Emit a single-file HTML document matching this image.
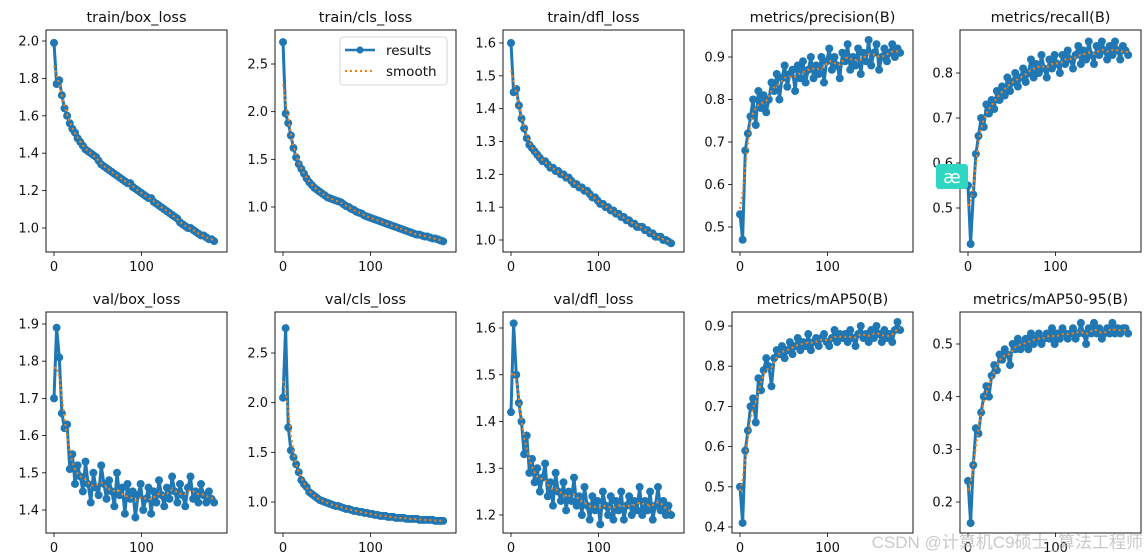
<!DOCTYPE html>
<html><head><meta charset="utf-8"><style>
body{margin:0;background:#fff;}
svg{display:block;font-family:"DejaVu Sans","Liberation Sans",sans-serif;}
</style></head><body>
<svg id="chart" width="1148" height="558" viewBox="0 0 1148 558" xmlns="http://www.w3.org/2000/svg">
<rect width="1148" height="558" fill="#fff"/>
</svg>
<script>
const epochs=[0,3,6,9,12,15,18,21,24,27,30,33,36,39,42,45,48,51,54,57,60,63,66,69,72,75,78,81,84,87,90,93,96,99,102,105,108,111,114,117,120,123,126,129,132,135,138,141,144,147,150,153,156,159,162,165,168,171,174,177,180,183];
const trainBox=[1.99,1.77,1.79,1.71,1.64,1.60,1.56,1.53,1.51,1.48,1.46,1.44,1.42,1.41,1.40,1.39,1.38,1.36,1.34,1.33,1.32,1.31,1.30,1.29,1.28,1.27,1.26,1.25,1.24,1.24,1.22,1.21,1.20,1.19,1.18,1.17,1.16,1.16,1.14,1.13,1.12,1.11,1.10,1.09,1.08,1.07,1.06,1.05,1.03,1.02,1.01,1.00,1.00,0.99,0.98,0.97,0.96,0.96,0.95,0.94,0.94,0.93];
const trainCls=[2.73,1.98,1.88,1.75,1.62,1.52,1.45,1.40,1.35,1.30,1.26,1.23,1.20,1.18,1.16,1.14,1.12,1.10,1.09,1.08,1.07,1.06,1.05,1.03,1.01,1.00,0.98,0.97,0.95,0.94,0.93,0.91,0.90,0.89,0.88,0.87,0.86,0.85,0.84,0.83,0.82,0.81,0.80,0.79,0.78,0.77,0.76,0.75,0.74,0.73,0.72,0.71,0.71,0.70,0.69,0.69,0.68,0.67,0.67,0.66,0.65,0.64];
const trainDfl=[1.60,1.45,1.46,1.41,1.37,1.34,1.31,1.29,1.28,1.27,1.26,1.25,1.24,1.24,1.23,1.22,1.22,1.21,1.21,1.20,1.20,1.19,1.19,1.18,1.17,1.17,1.16,1.16,1.15,1.15,1.14,1.13,1.13,1.12,1.11,1.11,1.10,1.10,1.09,1.09,1.08,1.08,1.07,1.07,1.06,1.06,1.05,1.05,1.04,1.04,1.04,1.03,1.03,1.02,1.02,1.01,1.01,1.01,1.00,1.00,0.995,0.99];
const precision=[0.53,0.47,0.68,0.72,0.76,0.80,0.74,0.82,0.78,0.81,0.77,0.80,0.84,0.82,0.86,0.80,0.85,0.88,0.83,0.86,0.87,0.82,0.88,0.85,0.89,0.84,0.87,0.90,0.85,0.88,0.86,0.90,0.84,0.89,0.92,0.87,0.90,0.88,0.85,0.91,0.89,0.93,0.87,0.90,0.88,0.92,0.86,0.91,0.89,0.94,0.88,0.91,0.93,0.87,0.90,0.92,0.89,0.91,0.93,0.90,0.92,0.91];
const recall=[0.55,0.42,0.53,0.62,0.66,0.70,0.68,0.73,0.71,0.74,0.72,0.76,0.74,0.77,0.75,0.79,0.76,0.78,0.80,0.77,0.79,0.81,0.78,0.80,0.83,0.79,0.82,0.80,0.84,0.81,0.79,0.83,0.81,0.84,0.82,0.80,0.84,0.82,0.85,0.83,0.81,0.84,0.86,0.82,0.85,0.83,0.87,0.84,0.82,0.86,0.84,0.87,0.85,0.83,0.86,0.84,0.87,0.85,0.83,0.86,0.85,0.84];
const valBox=[1.70,1.89,1.81,1.66,1.62,1.63,1.51,1.55,1.47,1.52,1.49,1.45,1.53,1.47,1.42,1.50,1.46,1.44,1.52,1.47,1.43,1.48,1.45,1.41,1.50,1.44,1.46,1.39,1.47,1.43,1.45,1.38,1.44,1.47,1.40,1.43,1.46,1.39,1.45,1.42,1.48,1.44,1.41,1.46,1.43,1.49,1.45,1.42,1.47,1.44,1.41,1.46,1.49,1.43,1.45,1.42,1.47,1.44,1.42,1.45,1.43,1.42];
const valCls=[2.05,2.75,1.75,1.52,1.45,1.38,1.30,1.22,1.18,1.15,1.10,1.08,1.06,1.04,1.02,1.01,1.00,0.99,0.98,0.97,0.96,0.96,0.95,0.94,0.93,0.93,0.92,0.91,0.91,0.90,0.90,0.89,0.89,0.88,0.88,0.87,0.87,0.86,0.86,0.86,0.85,0.85,0.85,0.84,0.84,0.84,0.84,0.83,0.83,0.83,0.83,0.83,0.82,0.82,0.82,0.82,0.82,0.82,0.81,0.81,0.81,0.81];
const valDfl=[1.42,1.61,1.50,1.44,1.40,1.33,1.37,1.29,1.32,1.27,1.30,1.25,1.28,1.31,1.24,1.27,1.22,1.29,1.25,1.23,1.27,1.21,1.25,1.23,1.28,1.22,1.24,1.20,1.26,1.22,1.19,1.24,1.21,1.23,1.18,1.25,1.22,1.20,1.24,1.19,1.23,1.21,1.25,1.19,1.22,1.24,1.20,1.23,1.21,1.26,1.20,1.23,1.21,1.25,1.19,1.22,1.26,1.21,1.23,1.20,1.22,1.20];
const map50=[0.50,0.41,0.59,0.64,0.70,0.72,0.66,0.77,0.74,0.79,0.82,0.80,0.75,0.82,0.84,0.83,0.85,0.82,0.84,0.86,0.83,0.85,0.87,0.84,0.86,0.85,0.88,0.84,0.86,0.87,0.85,0.87,0.88,0.86,0.85,0.87,0.89,0.86,0.88,0.87,0.88,0.86,0.89,0.87,0.85,0.88,0.90,0.87,0.88,0.86,0.89,0.87,0.90,0.88,0.86,0.89,0.87,0.88,0.86,0.89,0.91,0.89];
const map5095=[0.24,0.16,0.27,0.34,0.33,0.37,0.40,0.42,0.40,0.44,0.46,0.45,0.48,0.47,0.49,0.48,0.46,0.50,0.49,0.51,0.49,0.50,0.51,0.49,0.52,0.50,0.51,0.52,0.50,0.51,0.52,0.51,0.53,0.50,0.52,0.51,0.53,0.52,0.51,0.52,0.53,0.51,0.52,0.54,0.52,0.50,0.53,0.52,0.54,0.52,0.53,0.51,0.52,0.53,0.52,0.54,0.52,0.53,0.52,0.53,0.53,0.52];
const xTicks=[0,100];
const titles=["train/box_loss","train/cls_loss","train/dfl_loss","metrics/precision(B)","metrics/recall(B)","val/box_loss","val/cls_loss","val/dfl_loss","metrics/mAP50(B)","metrics/mAP50-95(B)"];
const yTicks=[["2.0","1.8","1.6","1.4","1.2","1.0"],["2.5","2.0","1.5","1.0"],["1.6","1.5","1.4","1.3","1.2","1.1","1.0"],["0.9","0.8","0.7","0.6","0.5"],["0.8","0.7","0.6","0.5"],["1.9","1.8","1.7","1.6","1.5","1.4"],["2.5","2.0","1.5","1.0"],["1.6","1.5","1.4","1.3","1.2"],["0.9","0.8","0.7","0.6","0.5","0.4"],["0.5","0.4","0.3","0.2"]];
const series=[trainBox,trainCls,trainDfl,precision,recall,valBox,valCls,valDfl,map50,map5095];
const colX=[46,275,503,732,960],rowY=[[30,252],[312,533]],panW=181;
const cal=[[2.0,41,1.0,228],[2.5,64,1.0,207],[1.6,43,1.0,240],[0.9,57,0.5,227],[0.8,73,0.5,208],[1.9,324,1.4,510],[2.5,353,1.0,502],[1.6,328,1.2,515],[0.9,326,0.4,527],[0.5,344,0.2,502]];
const NS="http://www.w3.org/2000/svg";
const svg=document.getElementById('chart');
function mk(tag,attrs,parent){const e=document.createElementNS(NS,tag);for(const k in attrs)e.setAttribute(k,attrs[k]);(parent||svg).appendChild(e);return e;}
function smooth(v){const out=[];for(let i=0;i<v.length;i++){let s=0,w=0;for(let j=-3;j<=3;j++){const k=i+j;if(k<0||k>=v.length)continue;const ww=Math.exp(-j*j/4);s+=v[k]*ww;w+=ww;}out.push(s/w);}return out;}
for(let p=0;p<10;p++){
  const x0=colX[p%5],r=rowY[Math.floor(p/5)],y0=r[0],y1=r[1];
  const c=cal[p];
  const ys=v=>c[1]+(v-c[0])*(c[3]-c[1])/(c[2]-c[0]);
  const xs=e=>x0+8+e*0.875;
  const g=mk('g',{});
  
  
  const t=mk('text',{x:x0+panW/2,y:y0-8,'text-anchor':'middle','font-size':'14.5',fill:'#111'},g);t.textContent=titles[p];
  
  
  for(const tv of yTicks[p]){const y=ys(parseFloat(tv));
    mk('line',{x1:x0-4,x2:x0,y1:y,y2:y,stroke:'#000','stroke-width':0.8},g);
    const tt=mk('text',{x:x0-7,y:y+4.5,'text-anchor':'end','font-size':'13',fill:'#111'},g);tt.textContent=tv;
    
    }
  for(const xv of xTicks){const x=xs(xv);
    mk('line',{x1:x,x2:x,y1:y1,y2:y1+4,stroke:'#000','stroke-width':0.8},g);
    const tt=mk('text',{x:x,y:y1+19,'text-anchor':'middle','font-size':'13',fill:'#111'},g);tt.textContent=xv;
    
    }
  const v=series[p],n=Math.min(v.length,epochs.length);
  let d='';for(let i=0;i<n;i++)d+=(i?'L':'M')+xs(epochs[i]).toFixed(1)+' '+ys(v[i]).toFixed(1);
  const ln=mk('path',{d:d,fill:'none',stroke:'#1f77b4','stroke-width':3,'stroke-linejoin':'round'},g);
  
  
  for(let i=0;i<n;i++){const m=mk('circle',{cx:xs(epochs[i]),cy:ys(v[i]),r:4,fill:'#1f77b4'},g);
    
    }
  const sm=smooth(v.slice(0,n));let d2='';for(let i=0;i<n;i++)d2+=(i?'L':'M')+xs(epochs[i]).toFixed(1)+' '+ys(sm[i]).toFixed(1);
  const sl=mk('path',{d:d2,fill:'none',stroke:'#ff7f0e','stroke-width':2,'stroke-dasharray':'2,3'},g);
  
  
  const fr=mk('rect',{x:x0,y:y0,width:panW,height:y1-y0,fill:'none',stroke:'#000','stroke-width':0.9},g);
  
  
}
const lg=mk('g',{});


mk('rect',{x:340,y:37,width:107,height:48,rx:3,fill:'#fff',stroke:'#ccc','stroke-width':0.8},lg);
mk('line',{x1:345,x2:375,y1:50,y2:50,stroke:'#1f77b4','stroke-width':2.5},lg);
mk('circle',{cx:360,cy:50,r:3.5,fill:'#1f77b4'},lg);
const l1=mk('text',{x:386,y:55,'font-size':'13.5',fill:'#111'},lg);l1.textContent='results';


mk('line',{x1:345,x2:375,y1:71,y2:71,stroke:'#ff7f0e','stroke-width':2,'stroke-dasharray':'2,3'},lg);
const l2=mk('text',{x:386,y:76,'font-size':'13.5',fill:'#111'},lg);l2.textContent='smooth';


const bd=mk('g',{});


mk('rect',{x:936,y:164,width:32,height:25,rx:3,fill:'#2fd6c3'},bd);
const bt=mk('text',{x:952,y:183,'text-anchor':'middle','font-size':'18',fill:'#fff'},bd);bt.textContent='æ';
const wm=mk('text',{x:1143,y:548,'text-anchor':'end','font-size':'17',fill:'#bbb','fill-opacity':'0.8','font-family':'"Liberation Sans","Noto Sans CJK SC",sans-serif'});
wm.textContent='CSDN @计算机C9硕士_算法工程师';


</script>
</body></html>
